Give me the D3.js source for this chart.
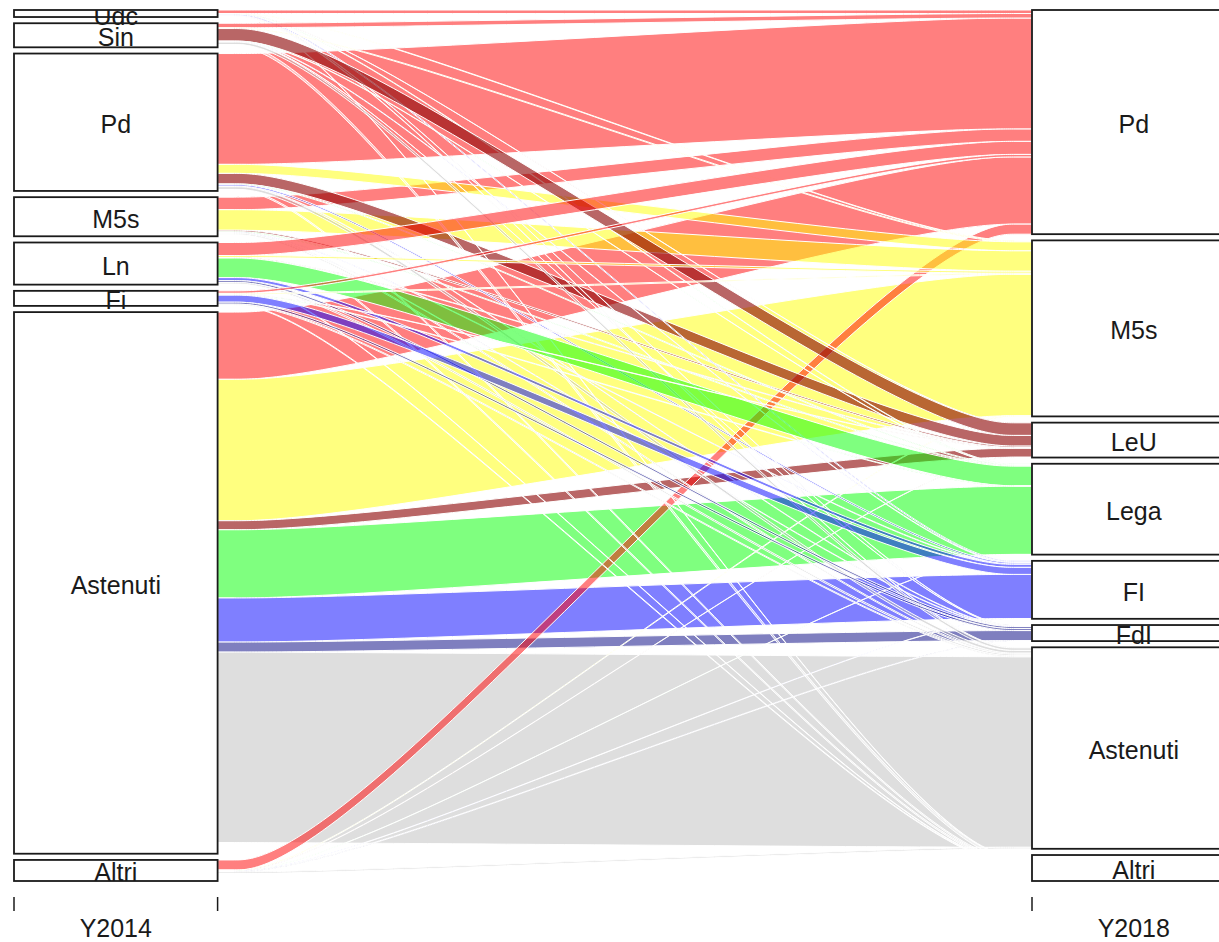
<!DOCTYPE html>
<html><head><meta charset="utf-8">
<script src="https://cdn.jsdelivr.net/npm/d3@7"></script>
<style>body{margin:0;background:#fff}svg{display:block}</style>
</head><body>
<svg id="chart" width="1219" height="942"></svg>
<script>
// ---------- data ----------
const axisNames = ["Y2014", "Y2018"];
const origins = ["Udc", "Sin", "Pd", "M5s", "Ln", "Fi", "Astenuti", "Altri"];
const destinations = ["Pd", "M5s", "LeU", "Lega", "FI", "FdI", "Astenuti", "Altri"];
// flows from each 2014 group to the 2018 groups (order of `destinations`)
const fromUdc      = [3.5, 0.5, 0.2, 0.5, 1, 0.3, 0.5, 0.5];
const fromSin      = [4.5, 0.8, 12.5, 0.3, 0.5, 0.2, 2.5, 2.7];
const fromPd       = [110.5, 9, 10.5, 0.8, 1.5, 0.5, 2.7, 1.5];
const fromM5s      = [12.5, 20.5, 1.5, 0.8, 0.5, 0.5, 1.2, 1.5];
const fromLn       = [13, 2, 0.5, 19.5, 3, 2, 1.5, 0.5];
const fromFi       = [2.5, 1, 0.3, 0.5, 7, 2, 1, 0.7];
const fromAstenuti = [67, 141, 9, 68, 44, 10, 190, 11];
const fromAltri    = [10, 0.7, 0.3, 0.2, 0.3, 0.5, 1.5, 7.5];
const destColors = ["#FF0000", "#FFFF00", "#8B0000", "#00FF00", "#0000FF", "#000080", "#BEBEBE", "#FFFFFF"];
// layer order (first = drawn first / lowest)
const layerOrder = ["Astenuti", "Altri", "M5s", "Pd", "Udc", "Sin", "Ln", "Fi"];

const matrix = [fromUdc, fromSin, fromPd, fromM5s, fromLn, fromFi, fromAstenuti, fromAltri];

// ---------- layout (as R alluvial) ----------
const gapW = 0.05, cw = 0.1, xw = 0.1;
const rows = [];
origins.forEach((o, i) => destinations.forEach((d, j) => rows.push({o, d, v: matrix[i][j], col: destColors[j]})));
const total = d3.sum(rows, r => r.v);
rows.forEach(r => r.f = r.v / total);

const cmp = (a, b) => a.toLowerCase() < b.toLowerCase() ? -1 : a.toLowerCase() > b.toLowerCase() ? 1 : 0;
const oRank = new Map([...origins].sort(cmp).map((k, i) => [k, i]));
const dRank = new Map([...destinations].sort(cmp).map((k, i) => [k, i]));

function stack(keyA, rankA, keyB, rankB, store) {
  const sorted = rows.slice().sort((a, b) => (rankA.get(a[keyA]) - rankA.get(b[keyA])) || (rankB.get(a[keyB]) - rankB.get(b[keyB])));
  let cum = 0, g = 0, prev = null;
  const nCat = new Set(sorted.map(r => r[keyA])).size;
  const mx = Math.max(1, nCat - 1);
  sorted.forEach(r => {
    if (prev !== null && r[keyA] !== prev) g++;
    prev = r[keyA];
    const y0 = cum * (1 - gapW) + g / mx * gapW;
    cum += r.f;
    const y1 = cum * (1 - gapW) + g / mx * gapW;
    r[store] = [y0, y1];
  });
}
stack("o", oRank, "d", dRank, "L");
stack("d", dRank, "o", oRank, "R");

// ---------- scales ----------
const x = d3.scaleLinear().domain([1 - cw, 2 + cw]).range([14, 14 + 1.2 * 1018]);
const y = d3.scaleLinear().domain([0, 1]).range([881, 10]);

const svg = d3.select("#chart");
svg.append("rect").attr("width", 1219).attr("height", 942).attr("fill", "#fff");

const line = d3.line().curve(d3.curveBasis);
function flowPath(r) {
  const xa = x(1 + cw), xb = x(2 - cw), xa2 = x(1 + cw + xw), xb2 = x(2 - cw - xw);
  const top = [[xa, y(r.L[1])], [xa2, y(r.L[1])], [xb2, y(r.R[1])], [xb, y(r.R[1])]];
  const bot = [[xb, y(r.R[0])], [xb2, y(r.R[0])], [xa2, y(r.L[0])], [xa, y(r.L[0])]];
  return line(top) + line(bot).replace(/^M/, "L") + "Z";
}

const drawRows = rows.slice().sort((a, b) => layerOrder.indexOf(a.o) - layerOrder.indexOf(b.o));
svg.append("g").selectAll("path").data(drawRows).join("path")
  .attr("d", flowPath)
  .attr("fill", d => d.col).attr("fill-opacity", d => d.d === "LeU" ? 0.6 : 0.5)
  .attr("stroke", "#fff").attr("stroke-width", 1);

// ---------- blocks and labels ----------
svg.append("clipPath").attr("id", "plotclip").append("rect")
  .attr("x", x(1 - cw)).attr("y", y(1)).attr("width", x(2 + cw) - x(1 - cw)).attr("height", y(0) - y(1));

const fs = 25;
[["o", "L", origins, 1], ["d", "R", destinations, 2]].forEach(([key, store, cats, pos]) => {
  const g = svg.append("g");
  const tg = svg.append("g").attr("clip-path", "url(#plotclip)");
  cats.forEach(c => {
    const rs = rows.filter(r => r[key] === c);
    const lo = d3.min(rs, r => r[store][0]), hi = d3.max(rs, r => r[store][1]);
    g.append("rect").attr("x", x(pos - cw)).attr("y", y(hi)).attr("width", x(pos + cw) - x(pos - cw)).attr("height", y(lo) - y(hi))
      .attr("fill", "none").attr("stroke", "#1a1a1a").attr("stroke-width", 1.8);
    tg.append("text").attr("x", x(pos)).attr("y", y((lo + hi) / 2) + fs * 0.44)
      .attr("text-anchor", "middle").attr("font-family", "Liberation Sans, Arial, sans-serif").attr("font-size", fs)
      .attr("fill", "#1a1a1a").text(c);
  });
});

// ---------- axis ----------
const ax = svg.append("g");
[1 - cw, 1 + cw, 2 - cw, 2 + cw].forEach(t => {
  ax.append("line").attr("x1", x(t)).attr("x2", x(t)).attr("y1", 897).attr("y2", 911)
    .attr("stroke", "#1a1a1a").attr("stroke-width", 1.5);
});
axisNames.forEach((n, i) => {
  ax.append("text").attr("x", x(i + 1)).attr("y", 937).attr("text-anchor", "middle")
    .attr("font-family", "Liberation Sans, Arial, sans-serif").attr("font-size", fs).attr("fill", "#1a1a1a").text(n);
});
</script>
</body></html>
